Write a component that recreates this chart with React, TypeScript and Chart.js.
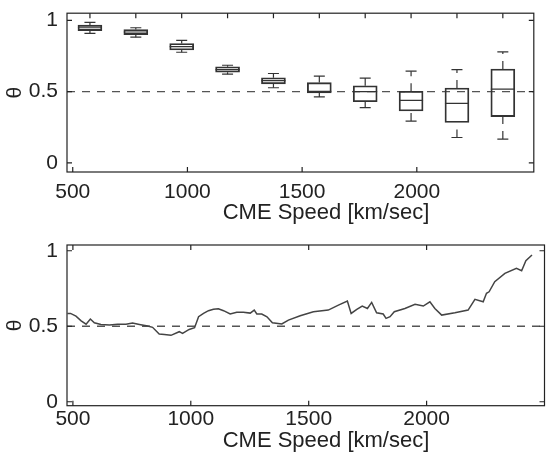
import { useEffect, useRef } from "react";
import { Chart, registerables } from "chart.js";
Chart.register(...registerables);

// ---- data ----
const speedTicks = [500, 1000, 1500, 2000];
const thetaTicks = [0, 0.5, 1];
const refLevel = 0.5;

const boxCenters = [575, 775, 975, 1175, 1375, 1575, 1775, 1975, 2175, 2375];
const boxMin = [0.908, 0.882, 0.776, 0.622, 0.527, 0.463, 0.387, 0.293, 0.178, 0.167];
const boxQ1 = [0.928, 0.9, 0.792, 0.636, 0.554, 0.49, 0.429, 0.364, 0.283, 0.325];
const boxMedian = [0.948, 0.918, 0.815, 0.654, 0.577, 0.502, 0.5, 0.439, 0.418, 0.518];
const boxQ3 = [0.966, 0.935, 0.837, 0.674, 0.597, 0.563, 0.541, 0.502, 0.525, 0.658];
const boxMax = [0.986, 0.948, 0.86, 0.685, 0.627, 0.609, 0.595, 0.643, 0.654, 0.778];

const lineSpeed = [
  477, 490, 513, 535, 556, 574, 591, 619, 655, 690, 725, 753, 782, 817, 838, 866, 888, 916, 951, 965,
  993, 1016, 1033, 1054, 1075, 1096, 1117, 1139, 1167, 1195, 1223, 1252, 1269, 1280, 1301, 1323, 1346,
  1386, 1414, 1464, 1520, 1583, 1626, 1664, 1680, 1704, 1727, 1749, 1767, 1788, 1816, 1828, 1845, 1863,
  1908, 1951, 1986, 2014, 2035, 2064, 2120, 2176, 2205, 2240, 2254, 2265, 2289, 2332, 2381, 2403, 2421, 2447,
];
const lineTheta = [
  0.585, 0.585, 0.567, 0.536, 0.514, 0.548, 0.523, 0.512, 0.508, 0.514, 0.514, 0.521, 0.512, 0.501, 0.493,
  0.448, 0.446, 0.44, 0.464, 0.453, 0.479, 0.49, 0.563, 0.585, 0.603, 0.612, 0.616, 0.603, 0.581, 0.592,
  0.592, 0.587, 0.607, 0.581, 0.581, 0.563, 0.523, 0.515, 0.541, 0.57, 0.596, 0.607, 0.64, 0.667, 0.585,
  0.612, 0.634, 0.618, 0.658, 0.589, 0.581, 0.552, 0.563, 0.596, 0.618, 0.645, 0.634, 0.662, 0.618, 0.574,
  0.589, 0.607, 0.678, 0.662, 0.718, 0.728, 0.795, 0.85, 0.883, 0.868, 0.934, 0.972,
];

const xTitle = "CME Speed [km/sec]";
const yTitle = "\u03b8";

// ---- styling ----
const FONT = "'Liberation Sans', Arial, Helvetica, sans-serif";
const INK = "#222";

const framePlugin = {
  id: "frame",
  afterDraw(chart: any, _args: any, opts: any) {
    const { ctx, chartArea: a, scales } = chart;
    ctx.save();
    ctx.strokeStyle = INK;
    ctx.lineWidth = 1.2;
    ctx.strokeRect(a.left, a.top, a.right - a.left, a.bottom - a.top);
    const L = 5;
    ctx.beginPath();
    for (const v of opts.bottomTicks) {
      const x = scales.x.getPixelForValue(v);
      ctx.moveTo(x, a.bottom);
      ctx.lineTo(x, a.bottom - L);
    }
    for (const v of opts.topTicks) {
      const x = scales.x.getPixelForValue(v);
      ctx.moveTo(x, a.top);
      ctx.lineTo(x, a.top + L);
    }
    for (const v of thetaTicks) {
      const y = scales.y.getPixelForValue(v);
      ctx.moveTo(a.left, y);
      ctx.lineTo(a.left + L, y);
      ctx.moveTo(a.right, y);
      ctx.lineTo(a.right - L, y);
    }
    ctx.stroke();
    ctx.fillStyle = INK;
    ctx.font = `22px ${FONT}`;
    ctx.textAlign = "center";
    ctx.textBaseline = "middle";
    ctx.fillText(xTitle, opts.titleX, a.bottom + opts.titleDy);
    ctx.restore();
  },
};

function scalesFor(xmin: number, xmax: number, ymin: number, ymax: number, xHeight: number, tickPad: number) {
  return {
    x: {
      type: "linear",
      min: xmin,
      max: xmax,
      offset: false,
      grid: { display: false, drawTicks: false },
      border: { display: false },
      afterBuildTicks: (s: any) => {
        s.ticks = speedTicks.map((v) => ({ value: v }));
      },
      afterFit: (s: any) => {
        s.height = xHeight;
        s.paddingLeft = 0;
        s.paddingRight = 0;
        s.paddingTop = 0;
        s.paddingBottom = 0;
      },
      ticks: {
        padding: tickPad,
        color: INK,
        autoSkip: false,
        maxRotation: 0,
        font: { family: FONT, size: 21 },
        callback: (v: any) => String(v),
      },
    },
    y: {
      type: "linear",
      min: ymin,
      max: ymax,
      grid: { display: false, drawTicks: false },
      border: { display: false },
      afterBuildTicks: (s: any) => {
        s.ticks = thetaTicks.map((v) => ({ value: v }));
      },
      afterFit: (s: any) => {
        s.width = 67;
        s.paddingLeft = 0;
        s.paddingRight = 0;
        s.paddingTop = 0;
        s.paddingBottom = 0;
      },
      ticks: {
        padding: 9,
        color: INK,
        font: { family: FONT, size: 21 },
        callback: (v: any) => String(v),
      },
      title: {
        display: true,
        text: yTitle,
        color: INK,
        padding: { top: 2.5, bottom: 0 },
        font: { family: FONT, size: 21 },
      },
    },
  };
}

function refLine(xmin: number, xmax: number) {
  return {
    type: "line",
    data: [
      { x: xmin, y: refLevel },
      { x: xmax, y: refLevel },
    ],
    borderColor: "#555",
    borderWidth: 1.3,
    borderDash: [8, 7],
    pointRadius: 0,
    order: 5,
  };
}

function topConfig(): any {
  const xmin = 475;
  const xmax = 2510;
  const whiskers: any[] = [];
  boxCenters.forEach((c, i) => {
    whiskers.push({ x: c, y: boxMin[i] }, { x: c, y: boxQ1[i] }, { x: c, y: null });
    whiskers.push({ x: c, y: boxQ3[i] }, { x: c, y: boxMax[i] }, { x: c, y: null });
  });
  return {
    type: "line",
    data: {
      datasets: [
        refLine(xmin, xmax),
        {
          type: "bar",
          data: boxCenters.map((c, i) => ({ x: c, y: [boxQ1[i], boxQ3[i]] })),
          backgroundColor: "rgba(0,0,0,0)",
          borderColor: "#333",
          borderWidth: 1.2,
          borderSkipped: false,
          barThickness: 24,
          grouped: false,
          order: 1,
        },
        {
          type: "line",
          data: whiskers,
          borderColor: "#333",
          borderWidth: 1.2,
          borderDash: [8, 7],
          spanGaps: false,
          pointRadius: 0,
          order: 2,
        },
        {
          type: "scatter",
          data: boxCenters.map((c, i) => ({ x: c, y: boxMedian[i] })),
          pointStyle: "line",
          pointRadius: 12,
          borderColor: "#333",
          borderWidth: 1.2,
          order: 0,
        },
        {
          type: "scatter",
          data: boxCenters.flatMap((c, i) => [
            { x: c, y: boxMin[i] },
            { x: c, y: boxMax[i] },
          ]),
          pointStyle: "line",
          pointRadius: 5.5,
          borderColor: "#333",
          borderWidth: 1.2,
          order: 0,
        },
      ],
    },
    options: {
      responsive: false,
      animation: false,
      events: [],
      layout: { padding: { top: 8, left: 0, right: 0, bottom: 0 } },
      scales: scalesFor(xmin, xmax, -0.064, 1.05, 56, 8),
      plugins: {
        legend: { display: false },
        tooltip: { enabled: false },
        frame: { bottomTicks: speedTicks, topTicks: boxCenters, titleX: 326, titleDy: 41 },
      },
    },
    plugins: [framePlugin],
  };
}

function bottomConfig(): any {
  const xmin = 475;
  const xmax = 2500;
  return {
    type: "line",
    data: {
      datasets: [
        refLine(xmin, xmax),
        {
          type: "line",
          data: lineSpeed.map((s, i) => ({ x: s, y: lineTheta[i] })),
          borderColor: "#444",
          borderWidth: 1.5,
          pointRadius: 0,
          tension: 0,
          order: 1,
        },
      ],
    },
    options: {
      responsive: false,
      animation: false,
      events: [],
      layout: { padding: { top: 17, left: 0, right: 2.5, bottom: 0 } },
      scales: scalesFor(xmin, xmax, -0.026, 1.038, 52.3, 1),
      plugins: {
        legend: { display: false },
        tooltip: { enabled: false },
        frame: { bottomTicks: speedTicks, topTicks: speedTicks, titleX: 326, titleDy: 35 },
      },
    },
    plugins: [framePlugin],
  };
}

export default function App() {
  const topRef = useRef<HTMLCanvasElement>(null);
  const botRef = useRef<HTMLCanvasElement>(null);
  useEffect(() => {
    const top = new Chart(topRef.current!, topConfig());
    const bot = new Chart(botRef.current!, bottomConfig());
    return () => {
      top.destroy();
      bot.destroy();
    };
  }, []);
  return (
    <div style={{ position: "absolute", left: 0, top: 0, width: 547, height: 458, background: "#fff" }}>
      <canvas ref={topRef} width={547} height={228} style={{ display: "block", width: 547, height: 228 }} />
      <canvas ref={botRef} width={547} height={230} style={{ display: "block", width: 547, height: 230 }} />
    </div>
  );
}
